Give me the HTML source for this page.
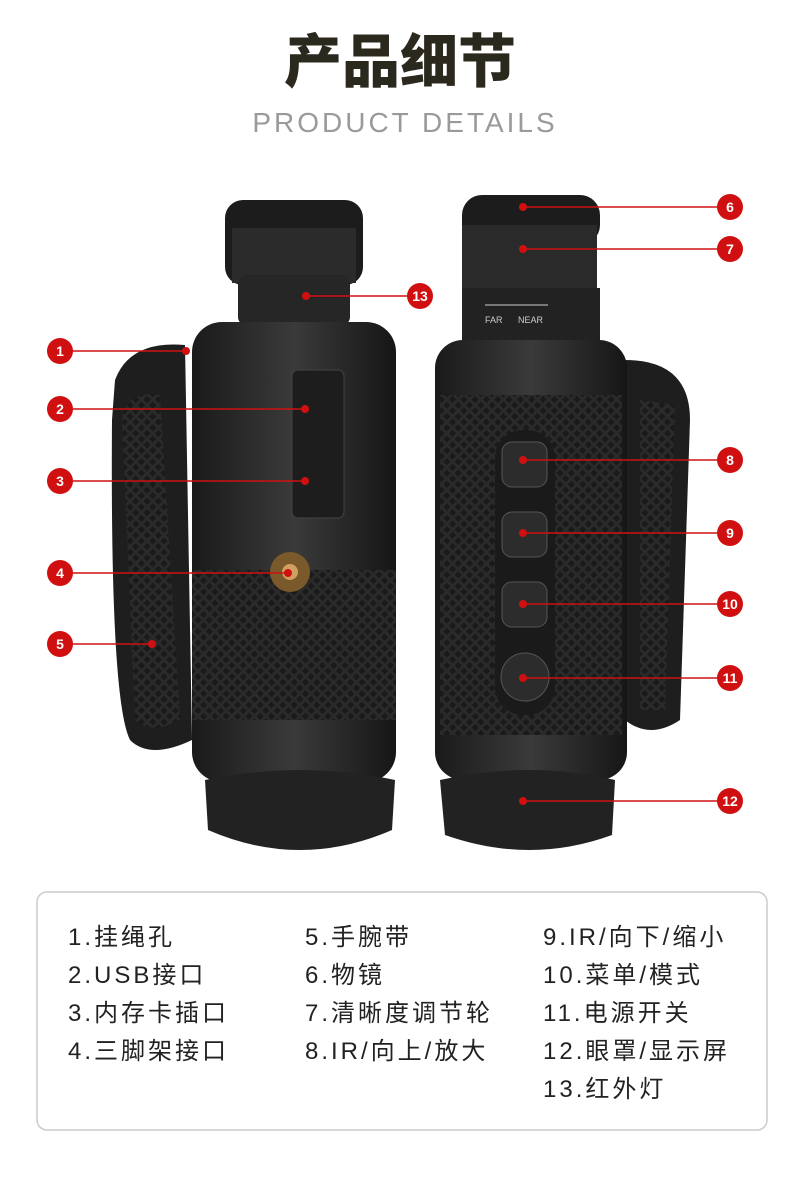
<!DOCTYPE html>
<html><head><meta charset="utf-8"><style>
body{margin:0;background:#fff;width:800px;height:1197px;overflow:hidden;font-family:"Liberation Sans","Noto Sans CJK SC",sans-serif}
</style></head><body>
<svg width="800" height="1197" viewBox="0 0 800 1197" xmlns="http://www.w3.org/2000/svg">
<defs>
<pattern id="kn" width="8" height="8" patternUnits="userSpaceOnUse" patternTransform="rotate(45)">
<rect width="8" height="8" fill="#2a2a2a"/><rect width="5" height="5" fill="#1a1a1a"/></pattern>
<linearGradient id="bd" x1="0" x2="1"><stop offset="0" stop-color="#1a1a1a"/><stop offset="0.5" stop-color="#3a3a3a"/><stop offset="1" stop-color="#161616"/></linearGradient>
</defs>
<text x="400" y="82" text-anchor="middle" font-size="58" font-weight="900" fill="#2b281d" font-family="Noto Sans CJK SC,sans-serif">产品细节</text>
<text x="405" y="132" text-anchor="middle" font-size="28" fill="#9a9a9a" letter-spacing="3">PRODUCT DETAILS</text>

<path d="M115 380 Q130 340 185 345 L192 740 Q150 760 130 740 Q110 700 112 420 Z" fill="#1e1e1e"/>
<path d="M122 420 Q125 390 160 395 L180 720 Q150 735 135 720 Z" fill="url(#kn)"/>
<rect x="225" y="200" width="138" height="85" rx="18" fill="#1c1c1c"/>
<rect x="232" y="228" width="124" height="55" fill="#2b2b2b"/>
<rect x="238" y="275" width="112" height="50" rx="8" fill="#262626"/>
<rect x="192" y="322" width="204" height="460" rx="30" fill="url(#bd)"/>
<rect x="192" y="570" width="204" height="150" fill="url(#kn)"/>
<rect x="292" y="370" width="52" height="148" rx="6" fill="#1d1d1d" stroke="#444"/>
<circle cx="290" cy="572" r="20" fill="#7a5a2a"/><circle cx="290" cy="572" r="8" fill="#d0a060"/>
<path d="M205 780 Q300 760 395 780 L392 830 Q300 870 208 830 Z" fill="#222"/>
<path d="M625 360 Q690 360 690 420 L680 720 Q650 740 625 720 Z" fill="#1e1e1e"/>
<path d="M640 400 L675 405 L665 710 L640 710 Z" fill="url(#kn)"/>
<rect x="462" y="195" width="138" height="50" rx="20" fill="#1c1c1c"/>
<rect x="462" y="225" width="135" height="65" fill="#2a2a2a"/>
<rect x="462" y="288" width="138" height="55" fill="#222"/>
<text x="485" y="323" font-size="9" fill="#ccc">FAR</text><text x="518" y="323" font-size="9" fill="#ccc">NEAR</text>
<line x1="485" y1="305" x2="548" y2="305" stroke="#ccc"/>
<rect x="435" y="340" width="192" height="440" rx="28" fill="url(#bd)"/>
<rect x="440" y="395" width="182" height="340" fill="url(#kn)"/>
<rect x="495" y="430" width="60" height="285" rx="28" fill="#1a1a1a"/>
<rect x="502" y="442" width="45" height="45" rx="10" fill="#2c2c2c" stroke="#555"/>
<rect x="502" y="512" width="45" height="45" rx="10" fill="#2c2c2c" stroke="#555"/>
<rect x="502" y="582" width="45" height="45" rx="10" fill="#2c2c2c" stroke="#555"/>
<circle cx="525" cy="677" r="24" fill="#2c2c2c" stroke="#555"/>
<path d="M440 780 Q530 760 615 780 L612 835 Q530 865 445 835 Z" fill="#222"/>

<g stroke="#d01010" stroke-width="1.5" fill="none">
<line x1="60" y1="351" x2="186" y2="351"/><line x1="60" y1="409" x2="305" y2="409"/>
<line x1="60" y1="481" x2="305" y2="481"/><line x1="60" y1="573" x2="288" y2="573"/>
<line x1="60" y1="644" x2="152" y2="644"/><line x1="306" y1="296" x2="420" y2="296"/>
<line x1="523" y1="207" x2="730" y2="207"/><line x1="523" y1="249" x2="730" y2="249"/>
<line x1="523" y1="460" x2="730" y2="460"/><line x1="523" y1="533" x2="730" y2="533"/>
<line x1="523" y1="604" x2="730" y2="604"/><line x1="523" y1="678" x2="730" y2="678"/>
<line x1="523" y1="801" x2="730" y2="801"/>
</g>
<g fill="#d01010">
<circle cx="186" cy="351" r="4"/><circle cx="305" cy="409" r="4"/><circle cx="305" cy="481" r="4"/><circle cx="288" cy="573" r="4"/><circle cx="152" cy="644" r="4"/><circle cx="306" cy="296" r="4"/>
<circle cx="523" cy="207" r="4"/><circle cx="523" cy="249" r="4"/><circle cx="523" cy="460" r="4"/><circle cx="523" cy="533" r="4"/><circle cx="523" cy="604" r="4"/><circle cx="523" cy="678" r="4"/><circle cx="523" cy="801" r="4"/>
<circle cx="60" cy="351" r="13"/><circle cx="60" cy="409" r="13"/><circle cx="60" cy="481" r="13"/><circle cx="60" cy="573" r="13"/><circle cx="60" cy="644" r="13"/>
<circle cx="420" cy="296" r="13"/>
<circle cx="730" cy="207" r="13"/><circle cx="730" cy="249" r="13"/><circle cx="730" cy="460" r="13"/><circle cx="730" cy="533" r="13"/><circle cx="730" cy="604" r="13"/><circle cx="730" cy="678" r="13"/><circle cx="730" cy="801" r="13"/>
</g>
<g fill="#fff" font-size="14" font-weight="bold" text-anchor="middle">
<text x="60" y="356">1</text><text x="60" y="414">2</text><text x="60" y="486">3</text><text x="60" y="578">4</text><text x="60" y="649">5</text>
<text x="420" y="301">13</text>
<text x="730" y="212">6</text><text x="730" y="254">7</text><text x="730" y="465">8</text><text x="730" y="538">9</text><text x="730" y="609">10</text><text x="730" y="683">11</text><text x="730" y="806">12</text>
</g>

<rect x="37" y="892" width="730" height="238" rx="10" fill="#fff" stroke="#ccc" stroke-width="1.5"/>
<g font-size="24" fill="#222" letter-spacing="3">
<text x="68" y="945">1.挂绳孔</text><text x="68" y="983">2.USB接口</text><text x="68" y="1021">3.内存卡插口</text><text x="68" y="1059">4.三脚架接口</text>
<text x="305" y="945">5.手腕带</text><text x="305" y="983">6.物镜</text><text x="305" y="1021">7.清晰度调节轮</text><text x="305" y="1059">8.IR/向上/放大</text>
<text x="543" y="945">9.IR/向下/缩小</text><text x="543" y="983">10.菜单/模式</text><text x="543" y="1021">11.电源开关</text><text x="543" y="1059">12.眼罩/显示屏</text><text x="543" y="1097">13.红外灯</text>
</g>
</svg>
</body></html>
